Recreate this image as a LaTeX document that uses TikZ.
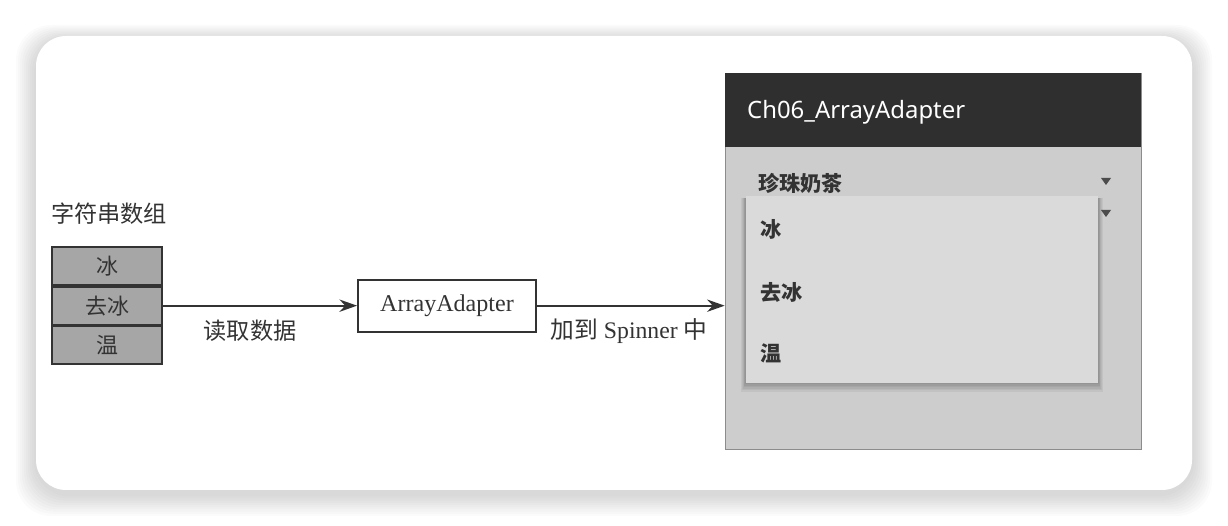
\documentclass[tikz,border=0pt]{standalone}
\usepackage{fontspec}
\setmainfont{Liberation Serif}
\newfontfamily\cjk{Noto Sans CJK SC}
\newfontfamily\appfont{Noto Sans}
\usetikzlibrary{arrows.meta,positioning}
\definecolor{cellc}{HTML}{A6A6A6}
\definecolor{barc}{HTML}{2F2F2F}
\definecolor{screenc}{HTML}{CDCDCD}
\definecolor{popc}{HTML}{DADADA}
\definecolor{inkc}{HTML}{333333}

\begin{document}
\begin{tikzpicture}[x=0.02cm,y=-0.02cm,
  cell/.style={draw=inkc,fill=cellc,line width=1.1pt,minimum width=2.2cm,minimum height=0.755cm,inner sep=0pt,font=\cjk\fontsize{12.5}{14}\selectfont,text=inkc},
  zh/.style={font=\cjk\fontsize{13.2}{15}\selectfont,text=inkc},
  arr/.style={-{Stealth[length=10pt,width=7pt]},line width=1.1pt,draw=inkc},
  item/.style={anchor=west,font=\cjk\bfseries\fontsize{12}{14}\selectfont,text=black!80}]
\useasboundingbox (0,0) rectangle (1228,526);
% card and its soft shadow
\foreach \i in {1,...,10}
  \fill[black,opacity=0.016,rounded corners=0.7cm] (36-2*\i,40-1.5*\i) rectangle (1192+2*\i,494+2.2*\i);
\fill[white,rounded corners=0.6cm] (36,36) rectangle (1192,490);

% string array
\node[zh] (arrname) at (109,214) {字符串数组};
\node[cell] (ice) at (107,266) {冰};
\node[cell,below=0pt of ice] (noice) {去冰};
\node[cell,below=0pt of noice] (warm) {温};

\node[draw=inkc,fill=white,line width=1.1pt,minimum width=3.56cm,minimum height=1.04cm,font=\fontsize{13.7}{16}\selectfont,text=inkc] (adapter) at (447,0 |- noice) {ArrayAdapter};

% phone screen
\node[draw=black!45,fill=screenc,minimum width=8.32cm,minimum height=7.52cm,inner sep=0pt] (phone) at (933,261) {};
\node[fill=barc,minimum width=8.32cm,minimum height=1.48cm,inner sep=0pt,anchor=north] (bar) at (phone.north) {};
\node[anchor=west,text=white,font=\appfont\fontsize{13.6}{16}\selectfont] (appname) at (741,112) {Ch06\_ArrayAdapter};
\node[item] (sel) at (752,183) {珍珠奶茶};
\fill[black!70] (1101,178) -- (1111,178) -- (1106,185) -- cycle;
\fill[black!70] (1101,210) -- (1111,210) -- (1106,217) -- cycle;
\foreach \i in {1,...,6}
  \fill[black,opacity=0.05] (746-0.8*\i,198) rectangle (1098+0.8*\i,383+1.5*\i);
\node[fill=popc,minimum width=7.04cm,minimum height=3.74cm,inner sep=0pt] (popup) at (922,289.5) {};
\node[item] (p1) at (754,229) {冰};
\node[item] (p2) at (754,292) {去冰};
\node[item] (p3) at (754,353) {温};

\draw[arr] (noice.east) -- (adapter.west);
\draw[arr] (adapter.east) -- (adapter.east -| phone.west);
\node[zh] (readlbl) at (250,331) {读取数据};
\node[font=\fontsize{13.5}{15}\selectfont,text=inkc] (addlbl) at (629,331) {{\cjk 加到} Spinner {\cjk 中}};
\end{tikzpicture}
\end{document}
